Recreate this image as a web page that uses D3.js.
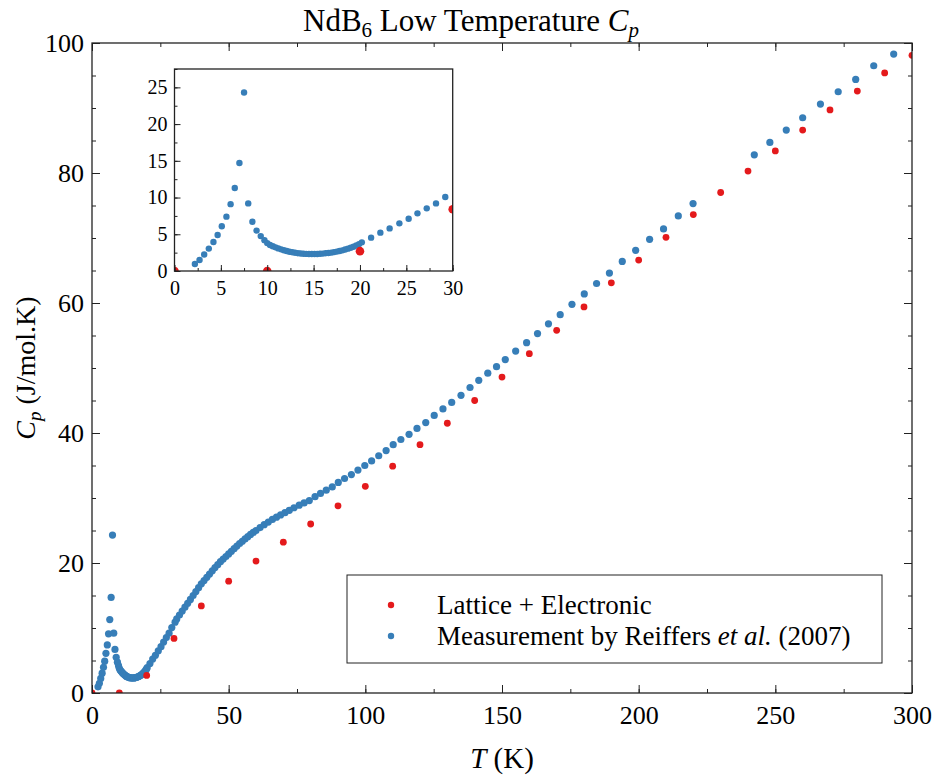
<!DOCTYPE html>
<html>
<head>
<meta charset="utf-8">
<script src="https://cdn.jsdelivr.net/npm/d3@7"></script>
<style>
body { margin: 0; background: #fff; }
svg text { font-family: "Liberation Serif", "Times New Roman", serif; fill: #000; }
</style>
</head>
<body>
<svg id="drawing_region"></svg>
<script>
// Lattice + Electronic (red)
const lattice_T  = [0, 10, 20, 30, 40, 50, 60, 70, 80, 90, 100, 110, 120, 130, 140, 150,
                    160, 170, 180, 190, 200, 210, 220, 230, 240, 250, 260, 270, 280, 290, 300];
const lattice_cp = [0, 0, 2.7, 8.4, 13.4, 17.2, 20.3, 23.2, 26.0, 28.8, 31.8, 34.9, 38.2, 41.5, 45.0, 48.6,
                    52.2, 55.8, 59.4, 63.1, 66.6, 70.1, 73.6, 77.0, 80.3, 83.4, 86.6, 89.7, 92.6, 95.4, 98.1];

// Measurement by Reiffers et al. (2007) (blue)
const meas_T = [
  2.2, 2.7, 3.2, 3.7, 4.2, 4.65, 5.1, 5.6, 6.05, 6.5, 7.0, 7.5, 7.95, 8.4, 8.85, 9.3, 9.7, 10.0,
  10.3, 10.6, 10.9, 11.2, 11.5, 11.8, 12.1, 12.4, 12.7, 13.0, 13.3, 13.6, 13.9, 14.2, 14.5, 14.8,
  15.1, 15.4, 15.7, 16.0, 16.3, 16.6, 16.9, 17.2, 17.5, 17.8, 18.1, 18.4, 18.7, 19.0, 19.3, 19.6,
  19.9, 20.2,
  21.2, 22.2, 23.2, 24.25, 25.25, 26.2, 27.2, 28.2, 29.2,
  30.4, 31, 32, 33, 34, 35, 36, 37, 38, 39, 40, 41, 42, 43, 44, 45, 46, 47, 48, 49, 50,
  51, 52, 53, 54, 55, 56, 57, 58, 59, 60,
  61.5, 63, 64.5, 66, 67.5, 69, 70.6, 72.2, 73.9, 75.8, 77.6, 79.5,
  81.6, 83.6, 85.7, 87.9, 90.1, 92.4, 94.9, 97.3, 99.8, 102.3, 104.9, 107.6, 110.2, 113.0,
  116.0, 118.9, 122.1, 125.2, 128.4, 131.6, 135.0, 138.3, 141.5, 144.8, 148.0, 151.2,
  155.0, 159.0, 163.0, 167.0, 171.3, 175.6, 180.1, 184.6, 189.3, 194.0, 198.9, 204.0,
  209.1, 214.5, 219.9,
  242.3, 248.0, 254.0, 260.0, 266.5, 273.0, 279.4, 286.0, 293.3
];
const meas_cp = [
  0.95, 1.5, 2.25, 3.05, 3.95, 4.9, 6.1, 7.4, 9.1, 11.3, 14.7, 24.3, 9.2, 6.7, 5.5, 4.75, 4.2, 3.8,
  3.54, 3.37, 3.22, 3.08, 2.95, 2.83, 2.73, 2.63, 2.55, 2.48, 2.42, 2.38, 2.35, 2.33, 2.31, 2.31,
  2.31, 2.32, 2.34, 2.37, 2.41, 2.45, 2.50, 2.57, 2.64, 2.72, 2.81, 2.92, 3.04, 3.17, 3.31, 3.47,
  3.66, 3.90,
  4.54, 5.22, 5.8, 6.49, 7.12, 7.85, 8.53, 9.2, 10.07,
  10.9, 11.4, 12.0, 12.6, 13.2, 13.8, 14.4, 15.0, 15.6, 16.2, 16.8, 17.3, 17.8, 18.3, 18.8, 19.3,
  19.75, 20.2, 20.6, 21.0, 21.4,
  21.8, 22.2, 22.6, 23.0, 23.35, 23.7, 24.05, 24.4, 24.7, 25.0,
  25.45, 25.9, 26.3, 26.7, 27.05, 27.4, 27.75, 28.1, 28.5, 28.9, 29.25, 29.6,
  30.2, 30.7, 31.2, 31.7, 32.4, 33.0, 33.6, 34.3, 35.0, 35.7, 36.5, 37.3, 38.2, 39.0,
  39.8, 40.7, 41.6, 42.7, 43.7, 44.7, 45.8, 47.0, 48.1, 49.2, 50.2, 51.3,
  52.6, 53.9, 55.3, 56.8, 58.2, 59.8, 61.4, 63.0, 64.6, 66.4, 68.1, 69.8,
  71.4, 73.4, 75.3,
  82.8, 84.7, 86.6, 88.5, 90.6, 92.5, 94.4, 96.5, 98.3
];

// tick labels
const main_xticks = [0, 50, 100, 150, 200, 250, 300];
const main_yticks = [0, 20, 40, 60, 80, 100];
const inset_xticks = [0, 5, 10, 15, 20, 25, 30];
const inset_yticks = [0, 5, 10, 15, 20, 25];

const legend_labels = ["Lattice + Electronic", "Measurement by Reiffers et al. (2007)"];
const colors = ["#e41a1c", "#377eb8"];

const lattice = lattice_T.map((t, i) => ({ t: t, cp: lattice_cp[i] }));
const meas = meas_T.map((t, i) => ({ t: t, cp: meas_cp[i] }));

const svg = d3.select('#drawing_region')
    .attr('width', 936)
    .attr('height', 778);

class ScatterPanel {

    constructor( config ) {
        this.config = config;
        this.init();
    }

    init() {
        let self = this;
        const c = self.config;

        self.xscale = d3.scaleLinear().domain(c.xdomain).range([c.left, c.right]);
        self.yscale = d3.scaleLinear().domain(c.ydomain).range([c.bottom, c.top]);

        self.g = svg.append('g');

        self.g.append('rect')
            .attr('x', c.left).attr('y', c.top)
            .attr('width', c.right - c.left).attr('height', c.bottom - c.top)
            .attr('fill', '#fff');

        self.g.append('clipPath').attr('id', c.id + '_clip')
            .append('rect')
            .attr('x', c.left).attr('y', c.top)
            .attr('width', c.right - c.left).attr('height', c.bottom - c.top);

        self.dots = self.g.append('g').attr('clip-path', `url(#${c.id}_clip)`);
        self.axes = self.g.append('g');
    }

    render() {
        let self = this;
        const c = self.config;

        const series = [
            { data: meas, color: colors[1], r: c.r_meas },
            { data: lattice, color: colors[0], r: c.r_lat }
        ];
        series.forEach(s => {
            self.dots.append('g').selectAll('circle')
                .data(s.data)
                .join('circle')
                .attr('cx', d => self.xscale(d.t))
                .attr('cy', d => self.yscale(d.cp))
                .attr('r', s.r)
                .attr('fill', s.color);
        });

        const xminor = d3.range(c.xdomain[0], c.xdomain[1] + 1e-9, c.xminor);
        const yminor = d3.range(c.ydomain[0], c.ydomain[1] + 1e-9, c.yminor);

        // bottom + left with labels
        self.axes.append('g')
            .attr('transform', `translate(0, ${c.bottom})`)
            .call(d3.axisBottom(self.xscale).tickValues(xminor).tickSize(-c.minor).tickFormat(''));
        self.axes.append('g')
            .attr('transform', `translate(0, ${c.bottom})`)
            .call(d3.axisBottom(self.xscale).tickValues(c.xticks).tickSize(-c.major).tickPadding(c.xpad).tickSizeOuter(0))
            .call(g => g.selectAll('text').attr('font-size', c.font));
        self.axes.append('g')
            .attr('transform', `translate(${c.left}, 0)`)
            .call(d3.axisLeft(self.yscale).tickValues(yminor).tickSize(-c.minor).tickFormat(''));
        self.axes.append('g')
            .attr('transform', `translate(${c.left}, 0)`)
            .call(d3.axisLeft(self.yscale).tickValues(c.yticks).tickSize(-c.major).tickPadding(c.ypad).tickSizeOuter(0))
            .call(g => g.selectAll('text').attr('font-size', c.font));

        if (c.mirror) {
            self.axes.append('g')
                .attr('transform', `translate(0, ${c.top})`)
                .call(d3.axisTop(self.xscale).tickValues(xminor).tickSize(-c.minor).tickFormat(''));
            self.axes.append('g')
                .attr('transform', `translate(0, ${c.top})`)
                .call(d3.axisTop(self.xscale).tickValues(c.xticks).tickSize(-c.major).tickFormat(''));
            self.axes.append('g')
                .attr('transform', `translate(${c.right}, 0)`)
                .call(d3.axisRight(self.yscale).tickValues(yminor).tickSize(-c.minor).tickFormat(''));
            self.axes.append('g')
                .attr('transform', `translate(${c.right}, 0)`)
                .call(d3.axisRight(self.yscale).tickValues(c.yticks).tickSize(-c.major).tickFormat(''));
        }

        self.axes.selectAll('.domain').remove();
        self.axes.selectAll('line').attr('stroke', '#222').attr('stroke-width', 1);
        self.axes.selectAll('text').attr('font-family', '"Liberation Serif", serif').attr('fill', '#000');

        self.g.append('rect')
            .attr('x', c.left).attr('y', c.top)
            .attr('width', c.right - c.left).attr('height', c.bottom - c.top)
            .attr('fill', 'none').attr('stroke', '#222').attr('stroke-width', 1.3);
    }
}

const main = new ScatterPanel({
    id: 'main', left: 92, right: 912, top: 43, bottom: 693,
    xdomain: [0, 300], ydomain: [0, 100],
    xticks: main_xticks, yticks: main_yticks, xminor: 25, yminor: 5,
    major: 8, minor: 4, xpad: 13, ypad: 8, font: 26, mirror: true,
    r_meas: 3.6, r_lat: 3.4
});
main.render();

const inset = new ScatterPanel({
    id: 'inset', left: 174.5, right: 452.7, top: 69, bottom: 271,
    xdomain: [0, 30], ydomain: [0, 27.5],
    xticks: inset_xticks, yticks: inset_yticks, xminor: 2.5, yminor: 2.5,
    major: 6, minor: 3, xpad: 10, ypad: 7, font: 20, mirror: false,
    r_meas: 3.2, r_lat: 4.3
});
inset.render();

// title
const title = svg.append('text')
    .attr('x', 471).attr('y', 31)
    .attr('text-anchor', 'middle')
    .attr('font-size', 31);
title.append('tspan').text('NdB');
title.append('tspan').attr('font-size', 21).attr('dy', 6).text('6');
title.append('tspan').attr('dy', -6).text(' Low Temperature ');
title.append('tspan').attr('font-style', 'italic').text('C');
title.append('tspan').attr('font-style', 'italic').attr('font-size', 21).attr('dy', 6).text('p');

// x label
const xlabel = svg.append('text')
    .attr('x', 502).attr('y', 768)
    .attr('text-anchor', 'middle')
    .attr('font-size', 29);
xlabel.append('tspan').attr('font-style', 'italic').text('T');
xlabel.append('tspan').text(' (K)');

// y label
const ylabel = svg.append('text')
    .attr('transform', 'translate(35, 368) rotate(-90)')
    .attr('text-anchor', 'middle')
    .attr('font-size', 28);
ylabel.append('tspan').attr('font-style', 'italic').text('C');
ylabel.append('tspan').attr('font-style', 'italic').attr('font-size', 19).attr('dy', 6).text('p');
ylabel.append('tspan').attr('dy', -6).text(' (J/mol.K)');

// legend
const legend = svg.append('g');
legend.append('rect')
    .attr('x', 347).attr('y', 575).attr('width', 535).attr('height', 88)
    .attr('fill', '#fff').attr('stroke', '#222').attr('stroke-width', 1);
legend_labels.forEach((lab, i) => {
    const y = 605 + i * 31;
    legend.append('circle').attr('cx', 391).attr('cy', y).attr('r', 3.2).attr('fill', colors[i]);
    const t = legend.append('text').attr('x', 437).attr('y', y + 9).attr('font-size', 27);
    if (i === 0) {
        t.text(lab);
    } else {
        t.append('tspan').text('Measurement by Reiffers ');
        t.append('tspan').attr('font-style', 'italic').text('et al.');
        t.append('tspan').text(' (2007)');
    }
});
</script>
</body>
</html>
